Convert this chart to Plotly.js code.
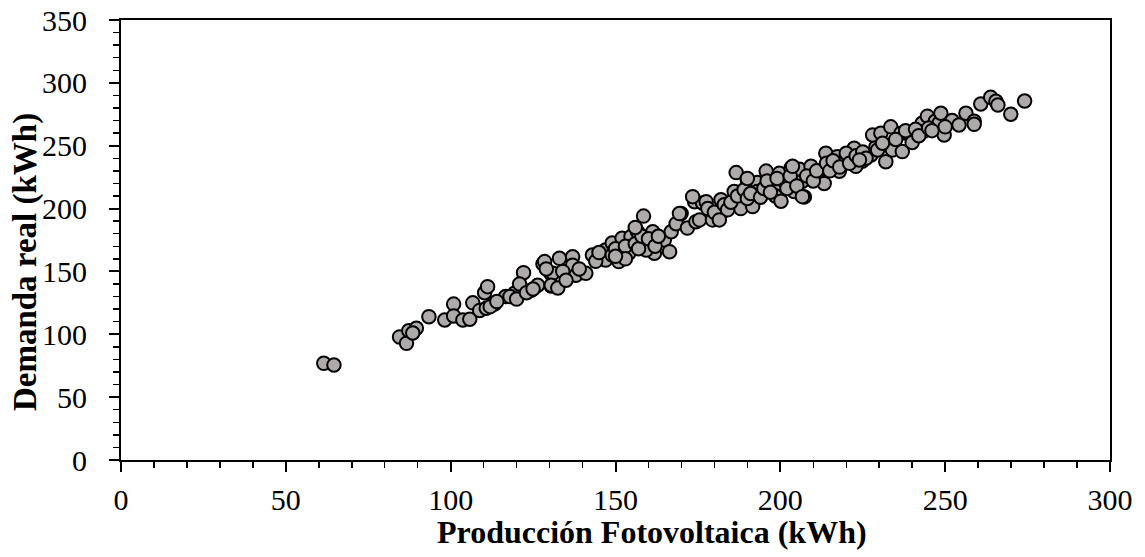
<!DOCTYPE html>
<html>
<head>
<meta charset="utf-8">
<script src="https://cdn.plot.ly/plotly-3.0.1.min.js"></script>
<style>
  html, body { margin: 0; padding: 0; background: #ffffff; }
  #chart { width: 1145px; height: 557px; }
</style>
</head>
<body>
<div id="chart"></div>
<script>
// Producción fotovoltaica (kWh) frente a demanda real (kWh)
const produccion = [
  61.5, 64.6,
  84.5, 86.6, 87.3, 89.6, 88.5, 93.4, 98.2, 100.9, 100.9, 103.7, 105.8, 106.7, 108.8,
  110.8, 110.3, 111.2, 113.3, 116.7, 119.4, 122.1, 120.9, 124.4, 126.4, 128.0, 130.5, 130.5,
  118.0, 120.0, 123.0, 125.0, 112.0, 114.0,
  128.5, 133.0, 131.0, 130.5, 132.5, 137.0, 137.0, 138.0, 141.0, 143.0, 147.0, 147.0, 149.0,
  151.0, 152.0, 154.0, 154.7, 156.7, 159.8, 161.3, 161.8, 159.3, 164.8, 166.4, 166.9, 168.4,
  169.9, 171.8, 174.4, 174.0, 176.4, 179.4, 158.5,
  129.0, 134.0, 135.0, 139.0, 144.0, 145.0, 149.0, 150.0, 153.0, 156.0, 157.0, 158.0, 160.0,
  162.0, 163.0, 156.0, 153.0, 150.0,
  175.5, 177.5, 182.0, 182.4, 179.4, 186.6, 186.0, 188.0, 188.0, 190.0, 193.0, 193.0, 191.6,
  195.7, 198.7, 198.5, 199.7, 201.2, 200.2, 203.2, 205.8, 204.2, 206.7, 207.3, 209.3, 212.8,
  213.3, 213.8, 213.3, 217.9, 217.3, 219.9, 222.4, 224.8, 222.9, 227.5, 229.0,
  178.0, 180.0, 183.0, 184.0, 185.0, 187.0, 189.0, 190.0, 191.0, 194.0, 195.0, 196.0, 197.0,
  199.0, 202.0, 203.0, 205.0, 208.0, 210.0, 211.0, 214.0, 215.0, 216.0, 218.0, 220.0, 221.0,
  223.0, 225.0, 226.0,
  224.0, 228.0, 230.5, 229.5, 232.0, 233.5, 234.0, 236.6, 237.0, 239.6, 240.0, 243.0, 243.6,
  244.6, 247.0, 248.2, 248.7, 249.7, 252.1, 254.2, 256.3, 258.8, 258.8, 260.8, 263.8, 265.4,
  266.0, 269.9, 274.1,
  231.0, 235.0, 238.0, 241.0, 242.0, 245.0, 246.0, 250.0,
  173.4, 169.4, 181.5, 190.0, 203.7, 206.7
];

const demanda = [
  76.9, 75.6,
  97.9, 92.8, 102.9, 104.8, 101.0, 114.0, 111.4, 124.0, 114.6, 111.4, 112.0, 125.0, 119.0,
  120.7, 133.0, 137.9, 124.0, 130.0, 132.7, 149.0, 140.0, 135.0, 139.0, 156.0, 148.0, 138.4,
  130.0, 128.0, 133.0, 136.0, 122.0, 126.0,
  157.8, 160.4, 148.6, 139.0, 136.8, 161.7, 155.0, 147.0, 148.5, 163.0, 167.0, 159.0, 172.6,
  157.8, 176.4, 164.5, 177.7, 181.6, 173.7, 181.6, 164.5, 167.0, 175.0, 165.7, 181.6, 188.0,
  196.0, 184.5, 189.6, 205.5, 204.4, 195.0, 194.0,
  152.0, 150.0, 143.0, 152.0, 158.0, 165.0, 163.0, 168.0, 170.0, 172.0, 168.0, 178.0, 176.0,
  170.0, 178.0, 185.0, 160.0, 162.0,
  191.0, 205.5, 207.0, 197.5, 191.0, 228.6, 213.5, 206.8, 200.0, 222.8, 220.7, 213.5, 201.6,
  229.8, 218.8, 210.0, 228.0, 221.8, 205.9, 232.0, 231.3, 213.5, 221.8, 209.3, 233.6, 225.7,
  232.0, 244.0, 220.0, 229.7, 241.3, 240.0, 248.0, 237.6, 233.6, 242.6, 249.0,
  200.0, 197.0, 203.0, 199.0, 205.0, 210.0, 215.0, 208.0, 212.0, 209.0, 216.0, 222.0, 213.0,
  224.0, 216.0, 226.0, 218.0, 226.0, 222.0, 230.0, 236.0, 230.0, 238.0, 233.0, 244.0, 236.0,
  242.0, 245.0, 240.0,
  238.7, 258.6, 260.0, 246.6, 237.3, 265.0, 246.6, 260.0, 245.3, 257.5, 252.6, 267.8, 261.6,
  273.5, 269.5, 268.0, 275.8, 258.6, 270.0, 266.5, 275.8, 269.5, 267.0, 283.2, 288.5, 285.4,
  282.4, 275.0, 285.6,
  252.0, 255.0, 262.0, 263.0, 258.0, 264.0, 262.0, 265.0,
  209.5, 196.0, 191.0, 224.0, 233.6, 209.5
];

const xTicks = [0, 50, 100, 150, 200, 250, 300];
const yTicks = [0, 50, 100, 150, 200, 250, 300, 350];

const serif = '"Liberation Serif", "Times New Roman", serif';

const trace = {
  type: 'scatter',
  mode: 'markers',
  x: produccion,
  y: demanda,
  marker: {
    symbol: 'circle',
    size: 13.5,
    color: '#AEAAAA',
    line: { color: '#000000', width: 2 }
  },
  hoverinfo: 'x+y'
};

const axisCommon = {
  showgrid: false,
  zeroline: false,
  showline: true,
  linecolor: '#000000',
  linewidth: 2,
  mirror: true,
  ticks: 'outside',
  ticklen: 10,
  tickwidth: 2,
  tickcolor: '#000000',
  tickfont: { family: serif, size: 30, color: '#000000' },
  minor: { ticks: 'outside', dtick: 10, ticklen: 6, tickwidth: 1.5, tickcolor: '#000000', showgrid: false }
};

const layout = {
  width: 1145,
  height: 557,
  margin: { l: 121, r: 35, t: 20, b: 97 },
  paper_bgcolor: '#ffffff',
  plot_bgcolor: '#ffffff',
  showlegend: false,
  xaxis: Object.assign({}, axisCommon, {
    range: [0, 300],
    tickvals: xTicks,
    ticktext: xTicks.map(String),
    ticklabelstandoff: 2
  }),
  yaxis: Object.assign({}, axisCommon, {
    range: [0, 350],
    tickvals: yTicks,
    ticktext: yTicks.map(String),
    ticklabelstandoff: 16
  }),
  annotations: [
    {
      text: '<b>Producción Fotovoltaica (kWh)</b>',
      xref: 'paper', yref: 'paper',
      x: 0.537, y: -0.163,
      xanchor: 'center', yanchor: 'middle',
      showarrow: false,
      font: { family: serif, size: 32, color: '#000000' }
    },
    {
      text: '<b>Demanda real (kWh)</b>',
      xref: 'paper', yref: 'paper',
      x: -0.097, y: 0.45,
      xanchor: 'center', yanchor: 'middle',
      textangle: -90,
      showarrow: false,
      font: { family: serif, size: 33, color: '#000000' }
    }
  ]
};

Plotly.newPlot('chart', [trace], layout, { displayModeBar: false, staticPlot: true });
</script>
</body>
</html>
